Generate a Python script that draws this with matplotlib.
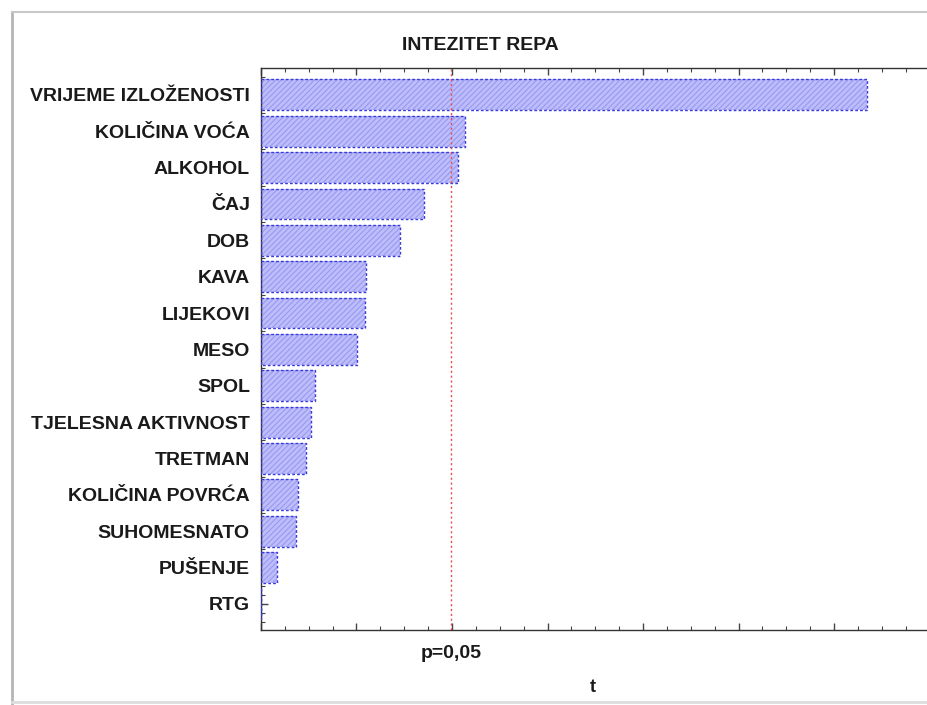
import matplotlib.pyplot as plt
from matplotlib.lines import Line2D
from matplotlib.ticker import MultipleLocator
import matplotlib.transforms as mtransforms

plt.rcParams['font.family'] = ['Liberation Sans', 'DejaVu Sans']
plt.rcParams['hatch.linewidth'] = 0.8

# data
factors = ['VRIJEME IZLOŽENOSTI', 'KOLIČINA VOĆA', 'ALKOHOL', 'ČAJ', 'DOB',
           'KAVA', 'LIJEKOVI', 'MESO', 'SPOL', 'TJELESNA AKTIVNOST',
           'TRETMAN', 'KOLIČINA POVRĆA', 'SUHOMESNATO', 'PUŠENJE', 'RTG']
t_values = [6.35, 2.14, 2.06, 1.71, 1.46, 1.10, 1.09, 1.01, 0.57, 0.52,
            0.47, 0.39, 0.37, 0.17, 0.0]
t_crit = 1.99

W, H = 928, 705
fig = plt.figure(figsize=(W / 100, H / 100), dpi=100)
ax = fig.add_axes([261 / W, (H - 630) / H, 667 / W, 562 / H])

pos = list(range(len(factors)))
# fill + hatch
ax.barh(pos, t_values, height=0.85, color='#bdbdfc', edgecolor='#9999ee',
        hatch='//////', linewidth=0, zorder=2)
# dashed outline
ax.barh(pos, t_values, height=0.85, fill=False, edgecolor='#3a3ad8',
        linewidth=1.0, linestyle=(0, (2, 1.5)), zorder=3)

ax.axvline(t_crit, color='#e84c4c', linestyle=(0, (1.5, 2)), linewidth=1.0,
           zorder=4)

ax.set_xlim(0, 667 / 95.5)
ax.set_ylim(14.72, -0.74)

ax.set_yticks(pos)
ax.set_yticklabels(factors, fontsize=14, fontweight='bold', color='#1a1a1a')
ax.yaxis.set_minor_locator(MultipleLocator(0.25))
ax.xaxis.set_major_locator(MultipleLocator(1))
ax.xaxis.set_minor_locator(MultipleLocator(0.25))
ax.tick_params(axis='x', which='both', direction='in', top=True,
               labelbottom=False, color='#444444')
ax.tick_params(axis='x', which='major', length=5, width=1)
ax.tick_params(axis='x', which='minor', length=3, width=0.8)
ax.tick_params(axis='y', which='both', direction='in', color='#444444',
               pad=8)
ax.tick_params(axis='y', which='major', length=5, width=1)
ax.tick_params(axis='y', which='minor', length=3, width=0.8)

ax.spines['right'].set_visible(False)
for s in ['left', 'top', 'bottom']:
    ax.spines[s].set_color('#333333')
    ax.spines[s].set_linewidth(1.0)

trans = mtransforms.blended_transform_factory(ax.transData, fig.transFigure)
ax.text(t_crit, 1 - 654 / H, 'p=0,05', transform=trans, ha='center',
        va='center', fontsize=14, fontweight='bold', color='#1a1a1a')
fig.text(593 / W, 1 - 688 / H, 't', ha='center', va='center', fontsize=13,
         fontweight='bold', color='#1a1a1a')
fig.text(480 / W, 1 - 45 / H, 'INTEZITET REPA', ha='center', va='center',
         fontsize=14, fontweight='bold', color='#1a1a1a')

# window frame of the screenshot
fig.add_artist(Line2D([12 / W, 12 / W], [0, 1 - 12 / H], color='#b5b5b5',
                      linewidth=2, transform=fig.transFigure))
fig.add_artist(Line2D([12 / W, 1], [1 - 12 / H, 1 - 12 / H], color='#c8c8c8',
                      linewidth=1.5, transform=fig.transFigure))
fig.add_artist(Line2D([12 / W, 1], [1 - 702 / H, 1 - 702 / H],
                      color='#dddddd', linewidth=2, transform=fig.transFigure))

fig.savefig('out.png', dpi=100)
